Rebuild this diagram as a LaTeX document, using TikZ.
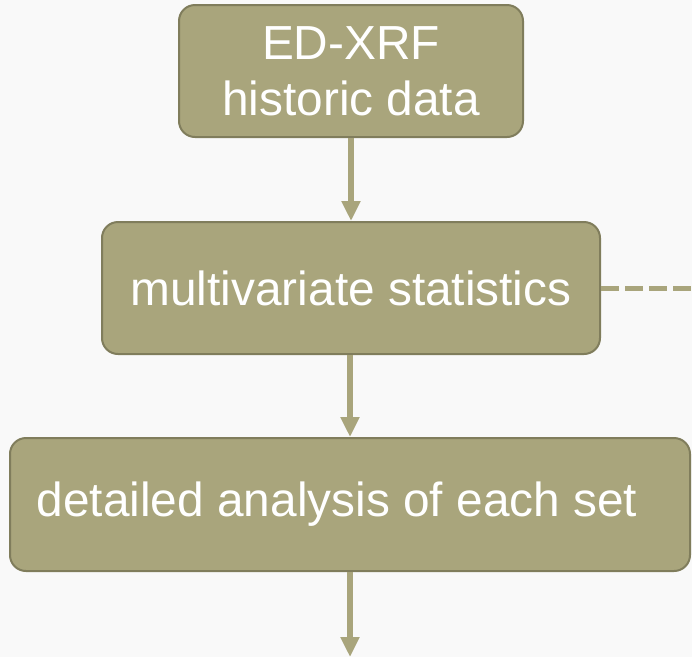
\documentclass[tikz,border=0pt]{standalone}
\usepackage{fontspec}
\setmainfont{Liberation Sans}
\usetikzlibrary{arrows.meta}
\definecolor{boxfill}{RGB}{169,165,124}
\definecolor{boxline}{RGB}{128,125,92}
\definecolor{pagebg}{RGB}{249,249,249}
\tikzset{
  stepbox/.style={draw=boxline, line width=2pt, fill=boxfill, rounded corners=16pt,
    text=white, font=\fontsize{47.8}{56}\selectfont, align=center, inner sep=0pt},
  flow/.style={draw=boxfill, line width=5.5pt,
    -{Triangle[width=18pt,length=20pt]}},
  link/.style={draw=boxfill, line width=5pt, dash pattern=on 18pt off 6pt}
}
\begin{document}
\begin{tikzpicture}[x=1pt,y=-1pt]
  \fill[pagebg] (0,0) rectangle (692,657);
  \useasboundingbox (0,0) rectangle (692,657);

  % process boxes
  \node[stepbox, minimum width=344pt, minimum height=132pt] (data) at (351,71)
    {ED-XRF\\historic data};
  \node[stepbox, minimum width=498pt, minimum height=132pt] (stats) at (351,288)
    {multivariate statistics};
  \node[stepbox, minimum width=680pt, minimum height=133pt] (detail) at (350,504.5)
    {detailed analysis of each set\hspace{26pt}};

  % loose ends
  \coordinate (out) at (350,657);
  \coordinate (side) at (692,288);

  % connectors
  \draw[flow] (data.south) -- (stats.north -| data.south);
  \draw[flow] (stats.south -| 350,0) -- (detail.north -| 350,0);
  \draw[flow] (detail.south -| 350,0) -- (out);
  \draw[link] (stats.east) -- (side);
\end{tikzpicture}
\end{document}
